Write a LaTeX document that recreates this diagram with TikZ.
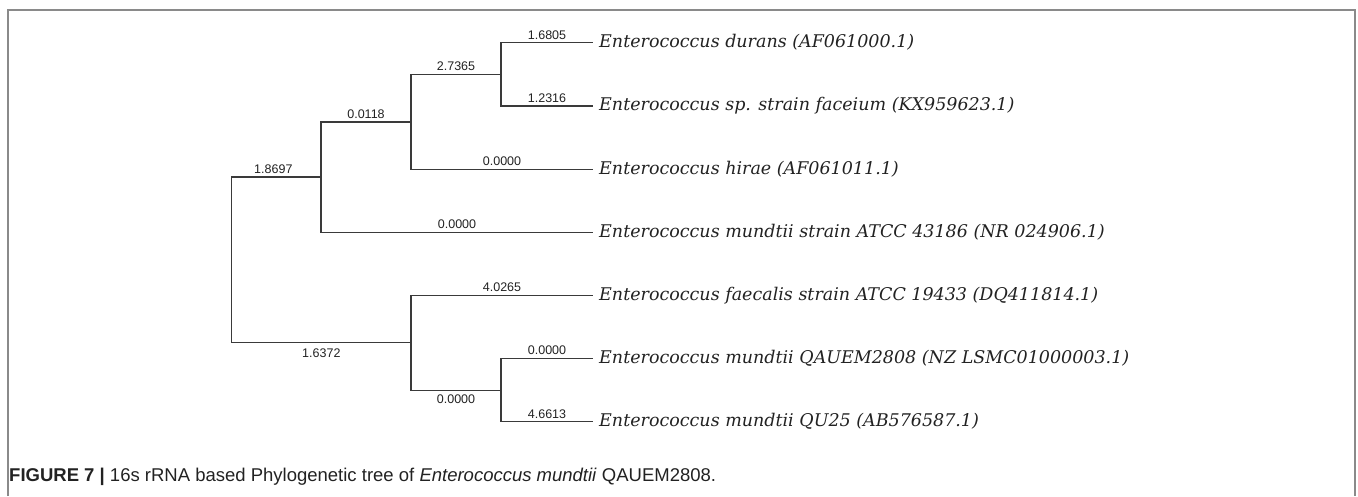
\documentclass[tikz,border=0pt]{standalone}
\usepackage{fontspec}
\setmainfont{Liberation Sans}
\newfontfamily\leaffont{DejaVu Serif}
\newfontfamily\numfont{Liberation Sans}
\newfontfamily\capfont{Liberation Sans}
\definecolor{treecol}{HTML}{3A3A3A}
\definecolor{framecol}{HTML}{8A8A8A}
\definecolor{txtcol}{HTML}{222222}
\begin{document}
\begin{tikzpicture}[x=1pt,y=-1pt,
  branch/.style={draw=treecol, line width=1.1pt},
  leaf/.style={anchor=west, inner xsep=6pt, inner ysep=0pt, font=\leaffont\itshape\fontsize{17.5}{18}\selectfont, text=txtcol},
  blab/.style={font=\numfont\fontsize{12.5}{13}\selectfont, text=txtcol, inner sep=3pt},
  frame/.style={draw=framecol, line width=1.6pt}]
\useasboundingbox (0,0) rectangle (1358,496);
\draw[frame] (8,496) -- (8,10) -- (1355,10) -- (1355,496);
% leaves
\node[leaf] (durans) at (593,42.7) {Enterococcus durans (AF061000.1)};
\node[leaf] (sp) at (593,106) {Enterococcus sp. strain faceium (KX959623.1)};
\node[leaf] (hirae) at (593,169.3) {Enterococcus hirae (AF061011.1)};
\node[leaf] (atcc) at (593,232.3) {Enterococcus mundtii strain ATCC 43186 (NR 024906.1)};
\node[leaf] (faec) at (593,295.6) {Enterococcus faecalis strain ATCC 19433 (DQ411814.1)};
\node[leaf] (qauem) at (593,358.6) {Enterococcus mundtii QAUEM2808 (NZ LSMC01000003.1)};
\node[leaf] (qu) at (593,421.7) {Enterococcus mundtii QU25 (AB576587.1)};
% internal nodes
\coordinate (n1) at (501,74.5);
\coordinate (n2) at (411,122);
\coordinate (n3) at (321,177);
\coordinate (n4) at (501,390.5);
\coordinate (n5) at (411,342.3);
\coordinate (root) at (231.7,260);
% branches
\draw[branch] (n1) |- node[blab, pos=0.75, above] (l1) {1.6805} (durans.west);
\draw[branch] (n1) |- node[blab, pos=0.75, above] (l2) {1.2316} (sp.west);
\draw[branch] (n2) |- node[blab, pos=0.75, above] (l3) {2.7365} (n1);
\draw[branch] (n2) |- node[blab, pos=0.75, above] (l4) {0.0000} (hirae.west);
\draw[branch] (n3) |- node[blab, pos=0.75, above] (l5) {0.0118} (n2);
\draw[branch] (n3) |- node[blab, pos=0.75, above] (l6) {0.0000} (atcc.west);
\draw[branch] (root) |- node[blab, pos=0.75, above, xshift=-3pt] (l7) {1.8697} (n3);
\draw[branch] (root) |- node[blab, pos=0.75, below, yshift=-3pt] (l8) {1.6372} (n5);
\draw[branch] (n5) |- node[blab, pos=0.75, above] (l9) {4.0265} (faec.west);
\draw[branch] (n5) |- node[blab, pos=0.75, below, yshift=-1pt] (l10) {0.0000} (n4);
\draw[branch] (n4) |- node[blab, pos=0.75, above] (l11) {0.0000} (qauem.west);
\draw[branch] (n4) |- node[blab, pos=0.75, above] (l12) {4.6613} (qu.west);
% caption
\node[anchor=west, inner sep=0pt, font=\capfont\fontsize{18.5}{19}\selectfont, text=txtcol] (cap) at (9,477)
  {\textbf{FIGURE 7 |} 16s rRNA based Phylogenetic tree of \textit{Enterococcus mundtii} QAUEM2808.};
\end{tikzpicture}
\end{document}
